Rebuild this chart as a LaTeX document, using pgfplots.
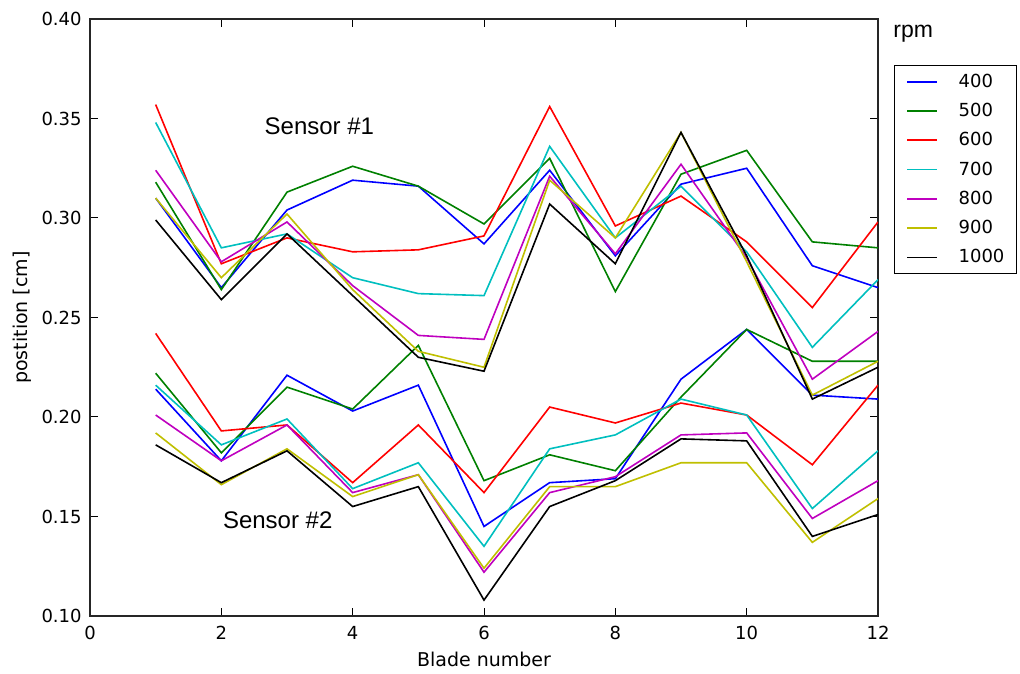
\documentclass[border=0pt]{standalone}
\usepackage{fontspec}
\setmainfont{DejaVu Sans}
\newfontfamily\arialfont{Liberation Sans}
\usepackage{pgfplots}
\usepackage{pgfplotstable}
\pgfplotsset{compat=1.18}

% classic line colours, one per rotor speed
\definecolor{cfour}{rgb}{0,0,1}
\definecolor{cfive}{rgb}{0,0.5,0}
\definecolor{csix}{rgb}{1,0,0}
\definecolor{cseven}{rgb}{0,0.75,0.75}
\definecolor{ceight}{rgb}{0.75,0,0.75}
\definecolor{cnine}{rgb}{0.75,0.75,0}
\definecolor{cten}{rgb}{0,0,0}

% Sensor #1 tip positions [cm] per blade and rotor speed
\pgfplotstableread{
blade r400  r500  r600  r700  r800  r900  r1000
1     0.310 0.318 0.357 0.348 0.324 0.310 0.299
2     0.265 0.264 0.277 0.285 0.278 0.270 0.259
3     0.304 0.313 0.290 0.292 0.298 0.302 0.292
4     0.319 0.326 0.283 0.270 0.266 0.264 0.261
5     0.316 0.316 0.284 0.262 0.241 0.233 0.230
6     0.287 0.297 0.291 0.261 0.239 0.225 0.223
7     0.324 0.330 0.356 0.336 0.321 0.319 0.307
8     0.281 0.263 0.296 0.290 0.282 0.290 0.277
9     0.317 0.322 0.311 0.316 0.327 0.343 0.343
10    0.325 0.334 0.288 0.283 0.280 0.278 0.281
11    0.276 0.288 0.255 0.235 0.219 0.211 0.209
12    0.265 0.285 0.298 0.269 0.243 0.228 0.225
}\sensorone

% Sensor #2 tip positions [cm] per blade and rotor speed
\pgfplotstableread{
blade r400  r500  r600  r700  r800  r900  r1000
1     0.214 0.222 0.242 0.216 0.201 0.192 0.186
2     0.178 0.182 0.193 0.186 0.178 0.166 0.167
3     0.221 0.215 0.196 0.199 0.196 0.184 0.183
4     0.203 0.204 0.167 0.164 0.162 0.160 0.155
5     0.216 0.236 0.196 0.177 0.171 0.171 0.165
6     0.145 0.168 0.162 0.135 0.122 0.124 0.108
7     0.167 0.181 0.205 0.184 0.162 0.165 0.155
8     0.169 0.173 0.197 0.191 0.170 0.165 0.168
9     0.219 0.210 0.207 0.209 0.191 0.177 0.189
10    0.244 0.244 0.201 0.201 0.192 0.177 0.188
11    0.211 0.228 0.176 0.154 0.149 0.137 0.140
12    0.209 0.228 0.216 0.183 0.168 0.159 0.151
}\sensortwo

\begin{document}
\begin{tikzpicture}
\begin{axis}[
  scale only axis,
  width=394pt, height=298.5pt,
  at={(45pt,28.5pt)}, anchor=south west,
  clip mode=individual,
  xmin=0, xmax=12, ymin=0.10, ymax=0.40,
  xtick={0,2,4,6,8,10,12},
  ytick={0.10,0.15,0.20,0.25,0.30,0.35,0.40},
  /pgf/number format/assume math mode=true,
  ticklabel style={font=\fontsize{9}{10}\selectfont},
  yticklabel style={inner sep=0pt, xshift=-4pt,
    /pgf/number format/fixed, /pgf/number format/fixed zerofill,
    /pgf/number format/precision=2},
  xticklabel style={inner sep=0pt, yshift=-5pt},
  tick align=inside,
  major tick length=4pt,
  tick style={black, line width=0.5pt},
  axis line style={black!85, line width=1pt},
  xlabel={Blade number},
  ylabel={postition [cm]},
  label style={font=\fontsize{9.5}{11}\selectfont, inner sep=0pt},
  xlabel style={at={(axis description cs:0.5,-0.0603)}, anchor=north},
  ylabel style={at={(axis description cs:-0.0857,0.5)}, anchor=center},
  legend style={at={(rel axis cs:1.0203,0.9229)}, anchor=north west,
    draw=black, line width=0.6pt, fill=white,
    font=\fontsize{9}{10}\selectfont,
    inner xsep=6pt, inner ysep=3.75pt, row sep=6.15pt, column sep=11pt,
    nodes={inner sep=0pt, text height=7pt, text depth=1.5pt}},
  legend cell align=left,
  legend image code/.code={\fill[#1, draw=none] (0pt,-0.45pt) rectangle (15pt,0.45pt);},
  every axis plot/.append style={line width=0.8pt},
]
\addplot[color=cfour] table[x=blade, y=r400]{\sensorone};
\addlegendentry{400}
\addplot[color=cfour, forget plot] table[x=blade, y=r400]{\sensortwo};
\addplot[color=cfive] table[x=blade, y=r500]{\sensorone};
\addlegendentry{500}
\addplot[color=cfive, forget plot] table[x=blade, y=r500]{\sensortwo};
\addplot[color=csix] table[x=blade, y=r600]{\sensorone};
\addlegendentry{600}
\addplot[color=csix, forget plot] table[x=blade, y=r600]{\sensortwo};
\addplot[color=cseven] table[x=blade, y=r700]{\sensorone};
\addlegendentry{700}
\addplot[color=cseven, forget plot] table[x=blade, y=r700]{\sensortwo};
\addplot[color=ceight] table[x=blade, y=r800]{\sensorone};
\addlegendentry{800}
\addplot[color=ceight, forget plot] table[x=blade, y=r800]{\sensortwo};
\addplot[color=cnine] table[x=blade, y=r900]{\sensorone};
\addlegendentry{900}
\addplot[color=cnine, forget plot] table[x=blade, y=r900]{\sensortwo};
\addplot[color=cten] table[x=blade, y=r1000]{\sensorone};
\addlegendentry{1000}
\addplot[color=cten, forget plot] table[x=blade, y=r1000]{\sensortwo};

\node[anchor=base west, inner sep=0pt, font=\arialfont\fontsize{12}{14}\selectfont]
  at (axis cs:2.654,0.3422) {Sensor \#1};
\node[anchor=base west, inner sep=0pt, font=\arialfont\fontsize{12}{14}\selectfont]
  at (axis cs:2.02,0.1442) {Sensor \#2};
\node[anchor=base west, inner sep=0pt, font=\arialfont\fontsize{11.5}{13}\selectfont]
  at (rel axis cs:1.019,0.9698) {rpm};
\end{axis}
\pgfresetboundingbox
\useasboundingbox (0,0) rectangle (510pt,336.5pt);
\end{tikzpicture}
\end{document}
